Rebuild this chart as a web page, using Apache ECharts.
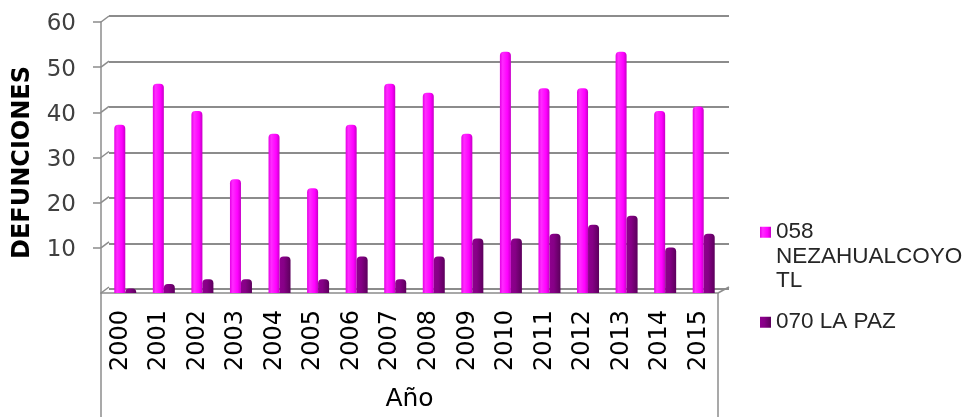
<!DOCTYPE html>
<html>
<head>
<meta charset="utf-8">
<title>Defunciones por año</title>
<script src="https://cdn.jsdelivr.net/npm/echarts@6/dist/echarts.min.js"></script>
<style>
  html, body { margin: 0; padding: 0; background: #ffffff; }
  #chart { width: 967px; height: 417px; }
</style>
</head>
<body>
<div id="chart"></div>
<script>
// Data
const years = ['2000', '2001', '2002', '2003', '2004', '2005', '2006', '2007',
               '2008', '2009', '2010', '2011', '2012', '2013', '2014', '2015'];
const nezahualcoyotl = [37, 46, 40, 25, 35, 23, 37, 46, 44, 35, 53, 45, 45, 53, 40, 41];
const laPaz = [1, 2, 3, 3, 8, 3, 8, 3, 8, 12, 12, 13, 15, 17, 10, 13];
const seriesNames = ['058 NEZAHUALCOYOTL', '070 LA PAZ'];
const yTicks = [0, 10, 20, 30, 40, 50, 60];

// Layout: back wall, bar plane and front plane of the pseudo-3D box
const PLOT_H = 273;
const WALL = { left: 109, top: 16, width: 620 };
const BARS = { left: 106, top: 20, width: 617 };
const FRONT = { left: 101, top: 22, width: 617 };
const DEPTH = { dx: 8, dy: -6 };
const GRAY = '#8c8c8c';

const pink = new echarts.graphic.LinearGradient(0, 0, 1, 0, [
  { offset: 0, color: '#e400e4' },
  { offset: 0.25, color: '#ff2cff' },
  { offset: 0.7, color: '#ff00ff' },
  { offset: 1, color: '#c600c6' }
]);
const purple = new echarts.graphic.LinearGradient(0, 0, 1, 0, [
  { offset: 0, color: '#8e008e' },
  { offset: 0.4, color: '#860086' },
  { offset: 1, color: '#5c005c' }
]);

// Wrap long legend names into lines of at most 12 characters; multi-line
// entries get leading blank lines so their first line sits beside the swatch
function wrapName(name) {
  const maxLen = 12;
  if (name.length <= maxLen) return name;
  const lines = [];
  let cur = '';
  name.split(' ').forEach(function (w) {
    if (cur && (cur + ' ' + w).length > maxLen) { lines.push(cur); cur = ''; }
    while (w.length > maxLen) {
      if (cur) { lines.push(cur); cur = ''; }
      lines.push(w.slice(0, maxLen));
      w = w.slice(maxLen);
    }
    cur = cur ? cur + ' ' + w : w;
  });
  if (cur) lines.push(cur);
  const pad = new Array(lines.length - 1).fill(' ');
  return pad.concat(lines).join('\n');
}

const LINE_H = 24.5;

const chart = echarts.init(document.getElementById('chart'));
chart.setOption({
  backgroundColor: '#ffffff',
  animation: false,
  grid: [
    { left: WALL.left, top: WALL.top, width: WALL.width, height: PLOT_H },
    { left: BARS.left, top: BARS.top, width: BARS.width, height: PLOT_H },
    { left: FRONT.left, top: FRONT.top, width: FRONT.width, height: PLOT_H }
  ],
  xAxis: [
    { gridIndex: 0, type: 'category', data: years, show: false },
    { gridIndex: 1, type: 'category', data: years, show: false },
    {
      gridIndex: 2, type: 'category', data: years,
      axisLine: { show: true, lineStyle: { color: GRAY, width: 1.5 } },
      axisTick: { show: false },
      axisLabel: {
        interval: 0, rotate: 90, margin: 17,
        fontFamily: 'DejaVu Sans', fontSize: 24, color: '#000000'
      },
      name: 'Año', nameLocation: 'middle', nameGap: 94,
      nameTextStyle: { fontFamily: 'DejaVu Sans', fontSize: 25, color: '#000000' }
    }
  ],
  yAxis: [
    {
      gridIndex: 0, type: 'value', min: yTicks[0], max: yTicks[yTicks.length - 1], interval: 10,
      axisLine: { show: false }, axisTick: { show: false }, axisLabel: { show: false },
      splitLine: { show: true, lineStyle: { color: GRAY, width: 2 } }
    },
    {
      gridIndex: 1, type: 'value', min: yTicks[0], max: yTicks[yTicks.length - 1], interval: 10,
      show: false, splitLine: { show: false }
    },
    {
      gridIndex: 2, type: 'value', min: yTicks[0], max: yTicks[yTicks.length - 1], interval: 10,
      axisLine: { show: true, lineStyle: { color: GRAY, width: 1.5 } },
      axisTick: { show: true, length: 8, lineStyle: { color: GRAY, width: 1.5 } },
      splitLine: { show: false },
      axisLabel: {
        showMinLabel: false, margin: 25, verticalAlign: 'top', lineHeight: 5,
        fontFamily: 'DejaVu Sans', fontSize: 23, color: '#404040'
      },
      name: 'DEFUNCIONES', nameLocation: 'middle', nameGap: 66,
      nameTextStyle: {
        fontFamily: 'DejaVu Sans', fontWeight: 'bold', fontSize: 24, color: '#000000',
        padding: [0, 10, 0, 0]
      }
    }
  ],
  legend: {
    orient: 'vertical', left: 755, top: 166, padding: 5,
    itemWidth: 11, itemHeight: 11, itemGap: 16.5,
    icon: 'rect',
    formatter: wrapName,
    textStyle: { fontFamily: 'Liberation Sans', fontSize: 22.5, color: '#262626', lineHeight: LINE_H },
    data: seriesNames
  },
  series: [
    {
      name: seriesNames[0], type: 'bar', xAxisIndex: 1, yAxisIndex: 1,
      data: nezahualcoyotl, barWidth: 11, barGap: '0%',
      itemStyle: { color: pink, borderRadius: [4, 4, 0, 0] }
    },
    {
      name: seriesNames[1], type: 'bar', xAxisIndex: 1, yAxisIndex: 1,
      data: laPaz, barWidth: 11, barGap: '0%',
      itemStyle: { color: purple, borderRadius: [4, 4, 0, 0] }
    },
    {
      // Depth connectors from the front axis to the back wall, floor edges and table box
      type: 'custom', xAxisIndex: 2, yAxisIndex: 2, silent: true, z: 1,
      data: yTicks.map(function (v) { return [0, v]; }),
      renderItem: function (params, api) {
        const cs = params.coordSys;
        const y = api.coord([0, api.value(1)])[1];
        const x = cs.x;
        const style = { stroke: GRAY, lineWidth: 1.5 };
        const children = [{
          type: 'line',
          shape: { x1: x, y1: y, x2: x + DEPTH.dx, y2: y + DEPTH.dy },
          style: style
        }];
        if (api.value(1) === yTicks[0]) {
          const xr = cs.x + cs.width;
          children.push(
            { type: 'line', shape: { x1: xr, y1: y, x2: xr + DEPTH.dx + 3, y2: y + DEPTH.dy }, style: style },
            { type: 'line', shape: { x1: x, y1: y, x2: x, y2: api.getHeight() }, style: style },
            { type: 'line', shape: { x1: xr, y1: y, x2: xr, y2: api.getHeight() }, style: style }
          );
        }
        return { type: 'group', children: children };
      }
    }
  ]
});
</script>
</body>
</html>
